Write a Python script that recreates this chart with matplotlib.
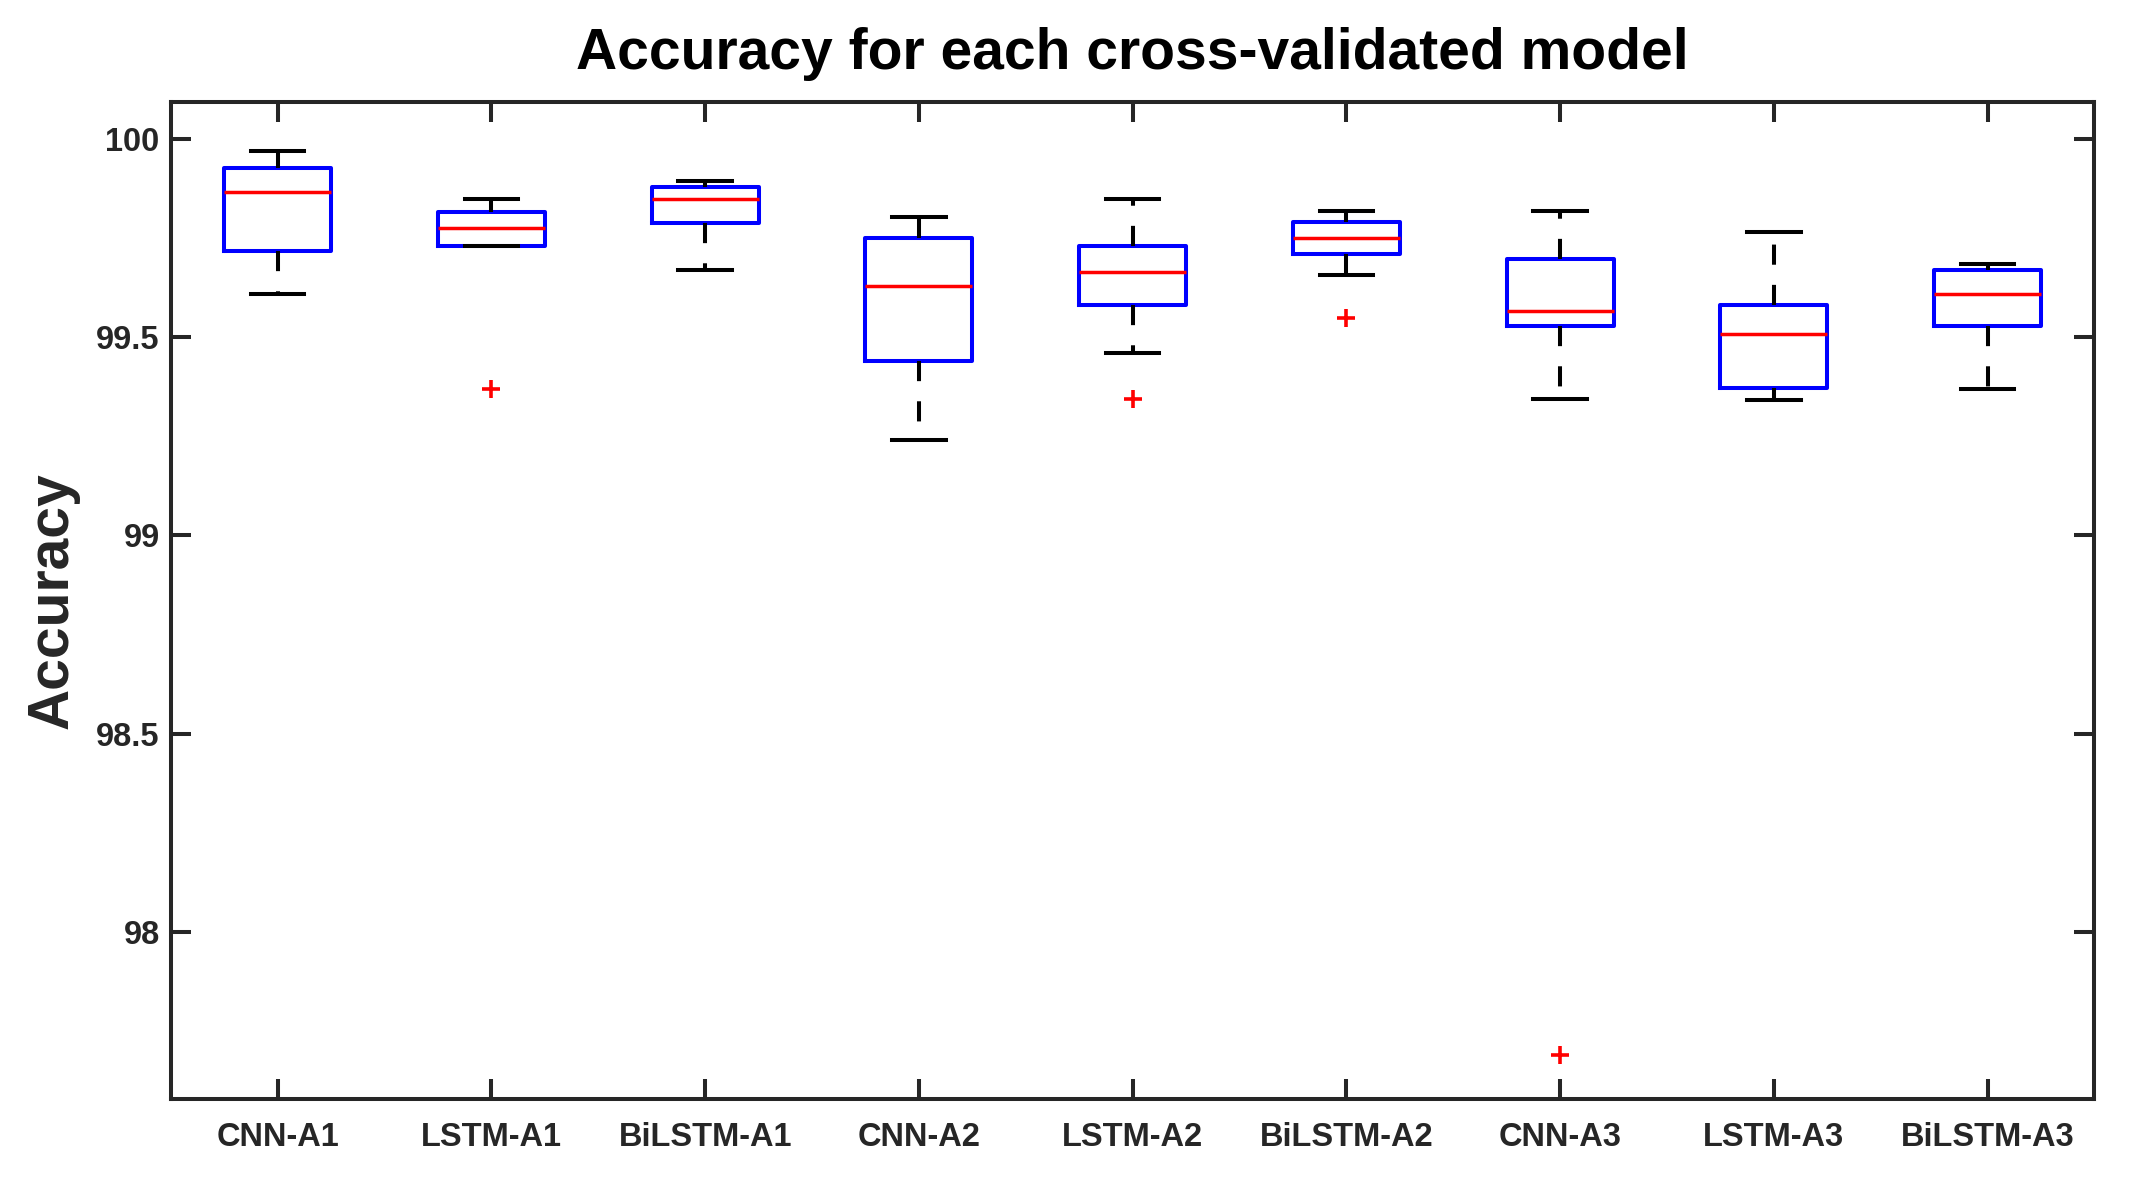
import matplotlib
matplotlib.use("Agg")
import matplotlib.pyplot as plt

labels = ["CNN-A1", "LSTM-A1", "BiLSTM-A1", "CNN-A2", "LSTM-A2", "BiLSTM-A2",
          "CNN-A3", "LSTM-A3", "BiLSTM-A3"]
whishi = [99.971, 99.849, 99.895, 99.805, 99.850, 99.820, 99.820, 99.765, 99.686]
q3     = [99.927, 99.817, 99.880, 99.750, 99.731, 99.792, 99.699, 99.581, 99.670]
med    = [99.868, 99.777, 99.848, 99.629, 99.665, 99.750, 99.567, 99.508, 99.609]
q1     = [99.719, 99.730, 99.789, 99.441, 99.581, 99.711, 99.528, 99.372, 99.528]
whislo = [99.609, 99.730, 99.670, 99.242, 99.461, 99.658, 99.345, 99.341, 99.370]
fliers = [[], [99.370], [], [], [99.344], [99.550], [97.690], [], []]
yticks = [98, 98.5, 99, 99.5, 100]
ytick_labels = ["98", "98.5", "99", "99.5", "100"]

plt.rcParams['font.family'] = ['Liberation Sans', 'DejaVu Sans']

fig = plt.figure(figsize=(21.35, 11.77), dpi=100)
ax = fig.add_axes([0.080, 0.066, 0.901, 0.847])

stats = []
for i in range(len(labels)):
    stats.append(dict(label=labels[i], whishi=whishi[i], q3=q3[i], med=med[i],
                      q1=q1[i], whislo=whislo[i], fliers=fliers[i]))

ax.bxp(stats, positions=range(1, len(labels) + 1), widths=0.5, capwidths=0.25,
       showfliers=True,
       boxprops=dict(color='#0000ff', linewidth=2.9),
       medianprops=dict(color='#ff0000', linewidth=2.5),
       whiskerprops=dict(color='black', linewidth=2.9, linestyle=(0, (5, 5))),
       capprops=dict(color='black', linewidth=2.9),
       flierprops=dict(marker='+', markeredgecolor='#ff0000', markersize=13,
                       markeredgewidth=2.6, linestyle='none'))

ax.set_xlim(0.5, 9.5)
ax.set_ylim(97.577, 100.093)
ax.set_yticks(yticks)
ax.set_yticklabels(ytick_labels)
ax.set_xticks(range(1, len(labels) + 1))
ax.set_xticklabels(labels)

spine_c = '#262626'
for s in ax.spines.values():
    s.set_linewidth(2.9)
    s.set_color(spine_c)
ax.tick_params(axis='both', direction='in', length=14.5, width=2.9, color=spine_c,
               top=True, right=True, labelsize=23.5, labelcolor=spine_c)
ax.tick_params(axis='x', pad=16)
ax.tick_params(axis='y', pad=8)
for t in ax.get_xticklabels() + ax.get_yticklabels():
    t.set_fontweight('bold')

ax.set_title("Accuracy for each cross-validated model", fontsize=41,
             fontweight='bold', pad=24, color='black')
ax.set_ylabel("Accuracy", fontsize=41, fontweight='bold', color=spine_c, labelpad=12)

fig.savefig("out.png", dpi=100, facecolor='white')
